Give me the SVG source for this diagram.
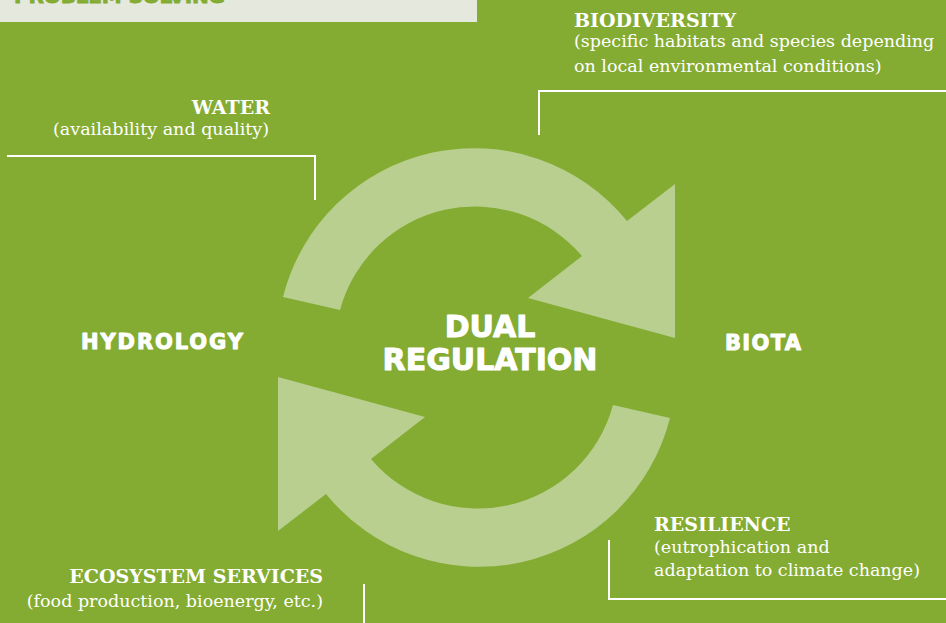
<svg xmlns="http://www.w3.org/2000/svg" width="946" height="623" viewBox="0 0 946 623">
<style>
.bg{fill:#84AC33}
.arrow{fill:#B8CF8F}
.lead{fill:none;stroke:#FFFFFF;stroke-width:2}
.big{font-family:"DejaVu Sans","Liberation Sans",sans-serif;font-weight:bold;fill:#FFFFFF;stroke:#FFFFFF;stroke-width:1;stroke-linejoin:round}
.hd{font-family:"DejaVu Serif","Liberation Serif",serif;font-weight:bold;font-size:19px;fill:#FFFFFF}
.bd{font-family:"DejaVu Serif","Liberation Serif",serif;font-size:17.5px;fill:#FFFFFF}
</style>
<defs>
<path id="arr" d="M283 297 A197 197 0 0 1 627 221 L675 184 L675 338 L528 298 L582 256 A140 140 0 0 0 340 310 Z"/>
</defs>
<rect class="bg" x="0" y="0" width="946" height="623"/>
<g id="header">
<rect x="0" y="0" width="477" height="22" fill="#E4E8DD"/>
<text x="14" y="3" font-family="DejaVu Sans, sans-serif" font-weight="bold" font-size="20" fill="#84AC33" stroke="#84AC33" stroke-width="0.8" textLength="211">PROBLEM SOLVING</text>
</g>
<g id="cycle">
<use href="#arr" class="arrow"/>
<use href="#arr" class="arrow" transform="rotate(180 476.5 357.5)"/>
</g>
<g id="connectors">
<polyline class="lead" points="7,156 315,156 315,200"/>
<polyline class="lead" points="539,135 539,91 946,91"/>
<polyline class="lead" points="609,540 609,599 946,599"/>
<polyline class="lead" points="364,584 364,623"/>
</g>
<g id="node-dual">
<text class="big" x="490" y="337" font-size="30" text-anchor="middle" stroke-width="1.3">DUAL</text>
<text class="big" x="490" y="370" font-size="30" text-anchor="middle" stroke-width="1.3">REGULATION</text>
</g>
<g id="node-hydrology">
<text class="big" x="81" y="349" font-size="21" textLength="162">HYDROLOGY</text>
</g>
<g id="node-biota">
<text class="big" x="725" y="350" font-size="21" textLength="76">BIOTA</text>
</g>
<g id="node-water">
<text class="hd" x="270" y="114" text-anchor="end">WATER</text>
<text class="bd" x="269" y="135" text-anchor="end">(availability and quality)</text>
</g>
<g id="node-biodiversity">
<text class="hd" x="574" y="27">BIODIVERSITY</text>
<text class="bd" x="574" y="47">(specific habitats and species depending</text>
<text class="bd" x="574" y="72">on local environmental conditions)</text>
</g>
<g id="node-resilience">
<text class="hd" x="654" y="531">RESILIENCE</text>
<text class="bd" x="654" y="553">(eutrophication and</text>
<text class="bd" x="654" y="576">adaptation to climate change)</text>
</g>
<g id="node-ecosystem">
<text class="hd" x="323" y="583" text-anchor="end">ECOSYSTEM SERVICES</text>
<text class="bd" x="323" y="607" text-anchor="end">(food production, bioenergy, etc.)</text>
</g>
</svg>
